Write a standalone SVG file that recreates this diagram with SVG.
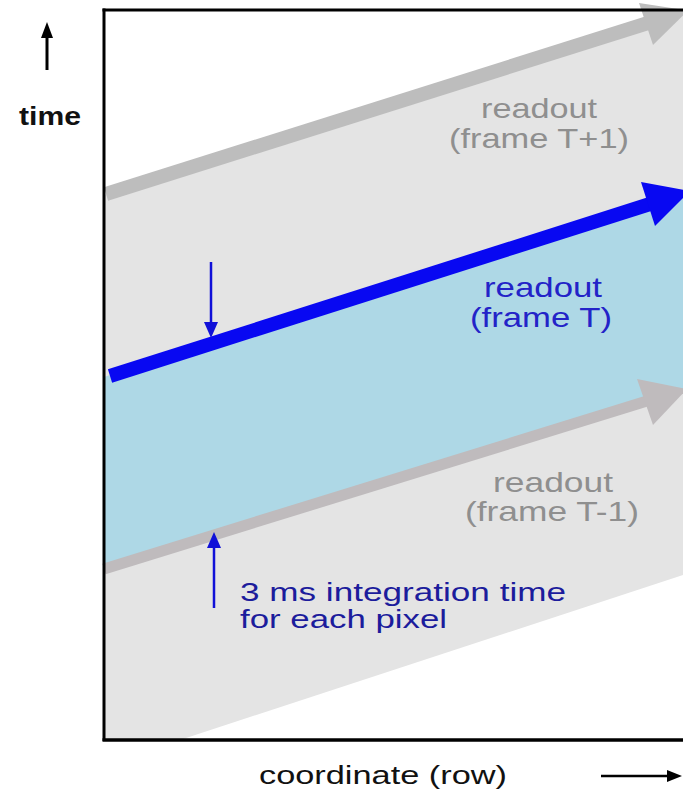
<svg xmlns="http://www.w3.org/2000/svg" width="683" height="793" viewBox="0 0 683 793">
<style>
text{font-family:"Liberation Sans",Arial,sans-serif;}
.lbl{font-size:28px;text-anchor:middle;}
.gray{fill:#8f8f8f;}
.blue{fill:#2323c8;}
.navy{fill:#1c1c9c;font-size:26px;}
.axis{fill:#111;font-size:26px;}
</style>
<rect x="0" y="0" width="683" height="793" fill="#ffffff"/>
<g id="bands">
<polygon points="104,195 683,12 683,575 180,740 104,740" fill="#e4e4e4"/>
<polygon points="104,377 683,193 683,391 104,570" fill="#aed8e6"/>
</g>
<g id="connectors">
<g id="readout-T-plus-1-arrow" fill="#bdbdbd">
<line x1="106" y1="194" x2="648" y2="23" stroke="#bdbdbd" stroke-width="14"/>
<polygon points="639,3 688,10.5 653,45"/>
</g>
<g id="readout-T-minus-1-arrow" fill="#bfbbbd">
<line x1="104" y1="569" x2="647" y2="401" stroke="#bfbbbd" stroke-width="11"/>
<polygon points="637,379 687,389 653,425"/>
</g>
<g id="readout-T-arrow" fill="#0808f2">
<line x1="110" y1="376" x2="650" y2="204" stroke="#0808f2" stroke-width="14"/>
<polygon points="641,182 690,191 655,226"/>
</g>
<g id="integration-arrows" fill="#1010d8">
<line x1="211" y1="262" x2="211" y2="325" stroke="#1010d8" stroke-width="2.5"/>
<polygon points="204,322 218,322 211,338"/>
<line x1="214" y1="608" x2="214" y2="544" stroke="#1010d8" stroke-width="2.5"/>
<polygon points="207,548 221,548 214,532"/>
</g>
<g id="axis-arrows" fill="#000">
<line x1="47" y1="70" x2="47" y2="36" stroke="#000" stroke-width="3"/>
<polygon points="41,38 53,38 47,22"/>
<line x1="601" y1="776" x2="670" y2="776" stroke="#000" stroke-width="2.5"/>
<polygon points="667,770 667,782 682,776"/>
</g>
</g>
<g id="frame" stroke="#000" fill="none">
<line x1="104" y1="8.5" x2="104" y2="741" stroke-width="3"/>
<line x1="102.5" y1="10" x2="683" y2="10" stroke-width="3"/>
<line x1="102.5" y1="740" x2="683" y2="740" stroke-width="3.5"/>
</g>
<g id="readout-T-plus-1">
<text class="lbl gray" x="539" y="118" textLength="116" lengthAdjust="spacingAndGlyphs">readout</text>
<text class="lbl gray" x="539" y="148" textLength="180" lengthAdjust="spacingAndGlyphs">(frame T+1)</text>
</g>
<g id="readout-T">
<text class="lbl blue" x="543" y="297" textLength="118" lengthAdjust="spacingAndGlyphs">readout</text>
<text class="lbl blue" x="541" y="327" textLength="142" lengthAdjust="spacingAndGlyphs">(frame T)</text>
</g>
<g id="readout-T-minus-1">
<text class="lbl gray" x="553" y="492" textLength="120" lengthAdjust="spacingAndGlyphs">readout</text>
<text class="lbl gray" x="552" y="521" textLength="174" lengthAdjust="spacingAndGlyphs">(frame T-1)</text>
</g>
<g id="integration-label">
<text class="navy" x="240" y="601" textLength="326" lengthAdjust="spacingAndGlyphs">3 ms integration time</text>
<text class="navy" x="240" y="628" textLength="207" lengthAdjust="spacingAndGlyphs">for each pixel</text>
</g>
<g id="axis-labels">
<text class="axis" x="19" y="125" font-weight="bold" font-size="26" textLength="62" lengthAdjust="spacingAndGlyphs">time</text>
<text class="axis" x="259" y="784" textLength="248" lengthAdjust="spacingAndGlyphs">coordinate (row)</text>
</g>
</svg>
